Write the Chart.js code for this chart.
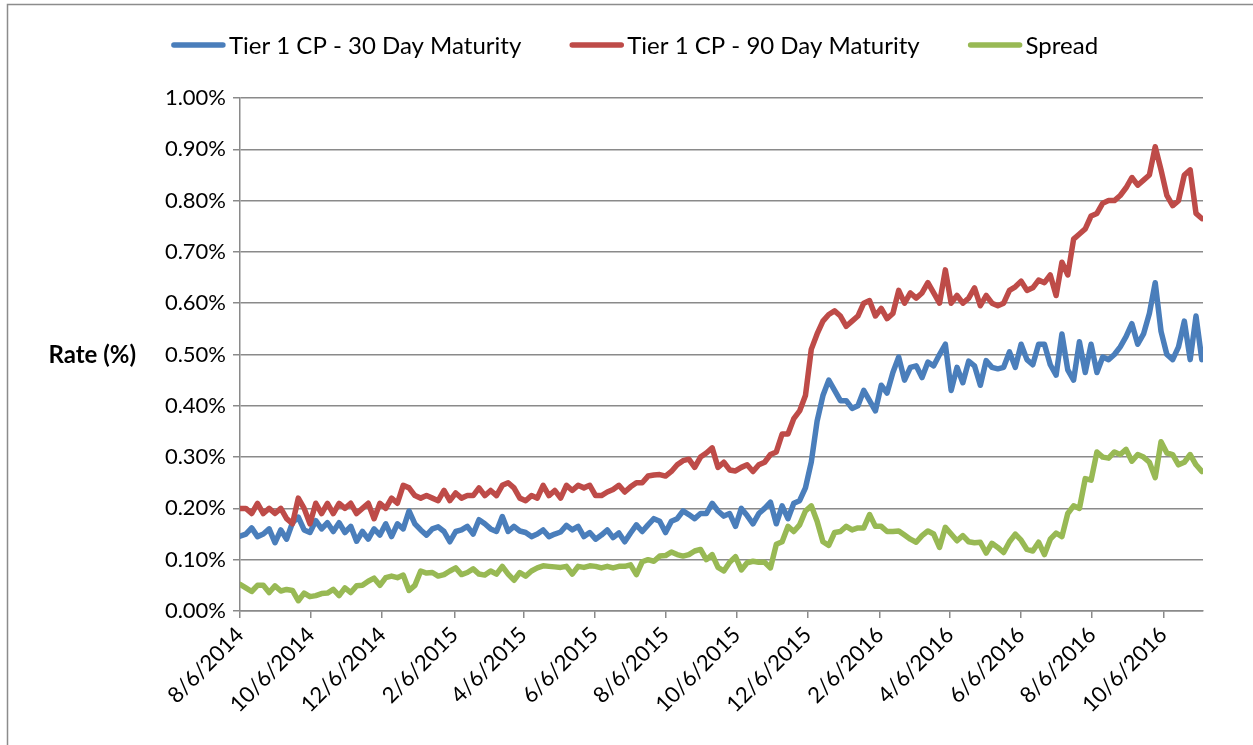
<!DOCTYPE html>
<html><head><meta charset="utf-8">
<script src="https://cdn.jsdelivr.net/npm/chart.js@4.4.1/dist/chart.umd.min.js"></script>
<style>html,body{margin:0;padding:0;background:#fff;}#wrap{width:1253px;height:745px;position:relative;}</style>
</head><body><div id="wrap"><canvas id="c" width="1253" height="745"></canvas></div>
<script>
// ---------- data ----------
const seriesNames = ['Tier 1 CP - 30 Day Maturity', 'Tier 1 CP - 90 Day Maturity', 'Spread'];
const tickLabels = ['8/6/2014','10/6/2014','12/6/2014','2/6/2015','4/6/2015','6/6/2015','8/6/2015','10/6/2015','12/6/2015','2/6/2016','4/6/2016','6/6/2016','8/6/2016','10/6/2016'];
const startDate = '8/6/2014';
const endDate = '11/9/2016';
const stepDays = 5; // spacing of the sampled observations

const cp30 = [
0.146,0.15,0.162,0.145,0.15,0.16,0.133,0.158,0.14,0.172,
0.183,0.158,0.153,0.176,0.16,0.172,0.155,0.172,0.153,0.165,
0.136,0.155,0.14,0.16,0.148,0.17,0.145,0.17,
0.16,0.195,
0.17,0.158,0.148,0.16,0.164,0.155,0.135,0.155,0.158,0.165,
0.15,0.178,0.17,0.16,0.155,0.184,0.155,0.165,0.156,0.153,
0.145,0.15,0.158,0.145,0.15,
0.154,0.167,0.158,0.165,0.145,
0.153,0.14,0.148,0.158,0.143,0.152,0.135,0.152,0.168,0.155,
0.168,0.18,0.175,0.153,0.175,0.18,0.195,0.188,0.18,0.19,
0.19,0.21,0.195,
0.185,0.19,0.165,0.20,0.186,0.17,0.19,
0.20,0.212,0.17,0.205,0.18,0.21,0.215,0.24,0.29,0.37,
0.42,0.45,0.43,0.41,0.41,0.395,0.40,0.43,0.41,0.39,
0.44,0.425,0.465,0.495,0.45,0.475,0.478,0.455,0.485,0.478,
0.50,0.52,0.43,0.475,0.445,0.487,0.478,0.44,0.488,0.475,
0.472,0.475,0.505,0.475,0.52,0.49,0.48,0.52,
0.52,0.48,0.46,0.54,0.47,0.45,0.525,0.465,0.52,0.465,
0.495,0.49,0.50,0.515,0.535,0.56,0.52,0.54,0.58,0.64,
0.545,0.50,0.49,0.515,0.565,0.49,0.575,0.49
];
const cp90 = [
0.20,0.20,0.19,0.21,0.19,0.20,0.19,0.20,0.18,0.17,
0.22,0.20,0.17,0.21,0.19,0.21,0.19,0.21,0.20,0.21,
0.19,0.20,0.21,0.18,0.21,0.20,0.22,0.21,
0.245,0.24,
0.225,0.22,0.225,0.22,0.215,0.235,0.215,0.23,0.22,0.225,
0.225,0.24,0.225,0.235,0.225,0.245,0.25,0.24,0.22,0.215,
0.225,0.22,0.245,0.225,0.235,
0.22,0.245,0.235,0.245,0.24,
0.245,0.225,0.225,0.232,0.237,0.245,0.232,0.242,0.25,0.25,
0.263,0.265,0.266,0.263,0.272,0.285,0.293,0.296,0.28,0.30,
0.308,0.318,0.28,
0.29,0.275,0.273,0.28,0.285,0.272,0.285,
0.29,0.305,0.31,0.345,0.345,0.375,0.39,0.42,0.51,0.54,
0.565,0.578,0.585,0.575,0.555,0.565,0.575,0.60,0.605,0.575,
0.59,0.57,0.58,0.625,0.60,0.62,0.61,0.62,0.64,0.62,
0.60,0.665,0.60,0.615,0.60,0.61,0.63,0.595,0.615,0.60,
0.595,0.60,0.625,0.632,0.643,0.625,0.63,0.645,
0.64,0.655,0.615,0.68,0.655,0.725,0.735,0.745,0.77,0.775,
0.795,0.80,0.80,0.81,0.825,0.845,0.83,0.84,0.85,0.905,
0.86,0.81,0.79,0.80,0.85,0.86,0.775,0.765
];
const spread = [
0.052,0.045,0.038,0.05,0.05,0.036,0.049,0.039,0.042,0.04,
0.02,0.035,0.028,0.03,0.034,0.035,0.042,0.03,0.045,0.036,
0.049,0.05,0.058,0.064,0.05,0.065,0.068,0.065,
0.07,0.04,
0.05,0.078,0.074,0.075,0.068,0.071,0.078,0.084,0.071,0.075,
0.082,0.072,0.07,0.078,0.072,0.087,0.072,0.06,0.075,0.068,
0.078,0.084,0.088,0.087,0.086,
0.085,0.087,0.072,0.087,0.085,
0.088,0.087,0.084,0.087,0.084,0.087,0.087,0.09,0.071,0.096,
0.10,0.097,0.107,0.108,0.115,0.11,0.107,0.11,0.117,0.12,
0.10,0.11,0.085,
0.078,0.095,0.106,0.08,0.094,0.097,0.095,
0.095,0.084,0.13,0.135,0.165,0.155,0.168,0.195,0.205,0.175,
0.135,0.128,0.153,0.155,0.165,0.158,0.162,0.162,0.188,0.165,
0.165,0.155,0.155,0.156,0.148,0.14,0.134,0.147,0.156,0.15,
0.124,0.163,0.15,0.137,0.147,0.135,0.133,0.134,0.113,0.132,
0.124,0.114,0.135,0.15,0.138,0.12,0.117,0.134,
0.11,0.14,0.152,0.145,0.19,0.205,0.20,0.258,0.255,0.31,
0.30,0.298,0.31,0.305,0.315,0.292,0.305,0.30,0.29,0.26,
0.33,0.308,0.305,0.285,0.29,0.305,0.285,0.272
];
const seriesColors = ['#4A7EBB', '#BE4B48', '#98B954'];

// ---------- helpers ----------
function parseMDY(s){ const p = s.split('/').map(Number); return Date.UTC(p[2], p[0]-1, p[1]); }
const t0 = parseMDY(startDate);
function dayOf(s){ return Math.round((parseMDY(s) - t0) / 86400000); }
function labelOfDay(v){ const l = tickLabels.find(t => dayOf(t) === Math.round(v)); return l || ''; }
const FONT = 'Lato, "Liberation Sans", sans-serif';
const GRID = '#8a8a8a';

function makeSeries(arr){ return arr.map((v, i) => ({ x: i * stepDays, y: v })); }

const decor = {
  id: 'excelDecor',
  afterDraw(chart){
    const ctx = chart.ctx, ca = chart.chartArea;
    ctx.save();
    // outer chart border
    ctx.strokeStyle = '#8c8c8c'; ctx.lineWidth = 1.5;
    ctx.strokeRect(7.5, 4.5, 1260, 760);
    // y axis title (horizontal, Excel style)
    ctx.fillStyle = '#000'; ctx.font = 'bold 24px ' + FONT;
    ctx.textAlign = 'right'; ctx.textBaseline = 'middle';
    ctx.fillText('Rate (%)', 136, (ca.top + ca.bottom) / 2 + 1);
    // legend
    ctx.font = '24px ' + FONT;
    const items = chart.data.datasets.map(ds => ({ text: ds.label, color: ds.borderColor, w: ctx.measureText(ds.label).width }));
    const lineLen = 53, gapTxt = 4, gapItem = 49;
    const total = items.reduce((a, it) => a + lineLen + gapTxt + it.w, 0) + gapItem * (items.length - 1);
    let x = 635 - total / 2; const y = 45;
    items.forEach(it => {
      ctx.strokeStyle = it.color; ctx.lineWidth = 5.5; ctx.lineCap = 'round';
      ctx.beginPath(); ctx.moveTo(x + 2, y); ctx.lineTo(x + lineLen - 2, y); ctx.stroke();
      ctx.fillStyle = '#000'; ctx.textAlign = 'left'; ctx.textBaseline = 'middle';
      ctx.fillText(it.text, x + lineLen + gapTxt, y + 1);
      x += lineLen + gapTxt + it.w + gapItem;
    });
    ctx.restore();
  }
};

const datasets = [cp30, cp90, spread].map((arr, k) => ({
  label: seriesNames[k],
  data: makeSeries(arr),
  borderColor: seriesColors[k],
  backgroundColor: seriesColors[k],
  borderWidth: 5.5,
  pointRadius: 0,
  tension: 0,
  fill: false,
  borderJoinStyle: 'round',
  borderCapStyle: 'round',
  order: 3 - k
}));

new Chart(document.getElementById('c'), {
  type: 'line',
  data: { datasets },
  options: {
    responsive: false, animation: false, devicePixelRatio: 1,
    layout: { padding: { top: 98, right: 50, bottom: 0, left: 0 } },
    plugins: { legend: { display: false }, tooltip: { enabled: false } },
    scales: {
      x: {
        type: 'linear', min: 0, max: dayOf(endDate),
        afterBuildTicks: s => { s.ticks = tickLabels.map(l => ({ value: dayOf(l) })); },
        afterFit: s => { s.height = 745 - 611; },
        ticks: { autoSkip: false, maxRotation: 45, minRotation: 45, padding: 4, color: '#000',
                 font: { family: FONT, size: 22 }, callback: v => labelOfDay(v) },
        grid: { drawOnChartArea: false, drawTicks: true, tickLength: 7, color: GRID, lineWidth: 1.5 },
        border: { color: GRID, width: 1.5 }
      },
      y: {
        min: 0, max: 1,
        afterFit: s => { s.width = 240; },
        ticks: { stepSize: 0.1, padding: 7, color: '#000', font: { family: FONT, size: 22 },
                 callback: v => Number(v).toFixed(2) + '%' },
        grid: { color: GRID, lineWidth: 1.5, tickLength: 7 },
        border: { color: GRID, width: 1.5 }
      }
    }
  },
  plugins: [decor]
});
</script></body></html>
